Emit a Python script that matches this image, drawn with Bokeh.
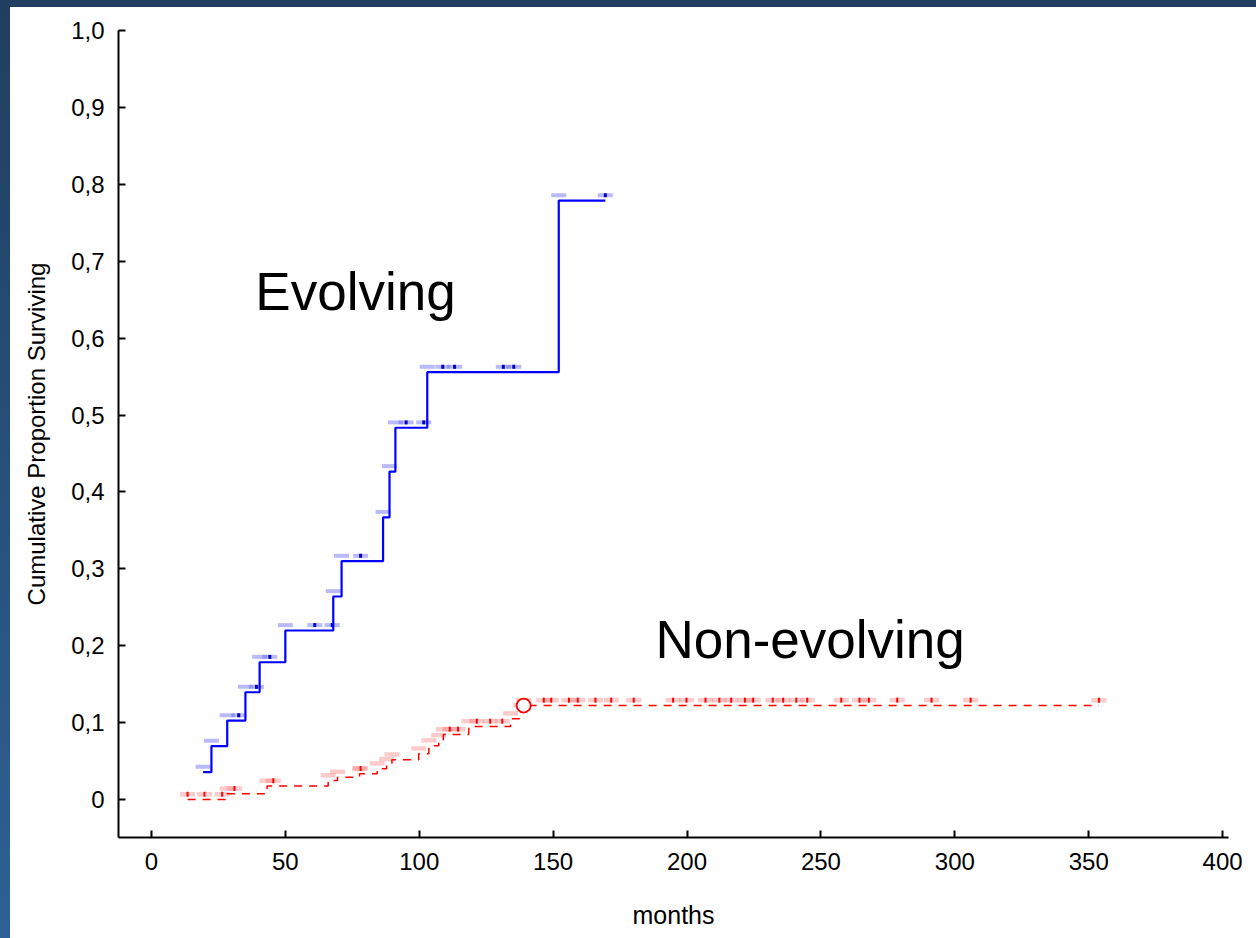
from bokeh.plotting import figure
from bokeh.models import Spacer, CustomJSTickFormatter, FixedTicker
from bokeh.layouts import column, row
from bokeh.embed import file_html
from bokeh.resources import INLINE
from bokeh.core.properties import value

# ---------------- data ----------------
x_ticks = [0, 50, 100, 150, 200, 250, 300, 350, 400]
y_ticks = [0.0, 0.1, 0.2, 0.3, 0.4, 0.5, 0.6, 0.7, 0.8, 0.9, 1.0]
y_tick_labels = ["0", "0,1", "0,2", "0,3", "0,4", "0,5", "0,6", "0,7", "0,8", "0,9", "1,0"]

evolving_event_months = [19.3, 22.4, 28.3, 35.1, 40.4, 50.0, 67.9, 71.0, 86.5, 88.9, 91.1, 103.0, 152.1]
evolving_cum_prop = [0.0355, 0.0693, 0.1027, 0.1395, 0.1785, 0.2198, 0.2640, 0.3099, 0.3670,
                     0.4265, 0.4834, 0.5557, 0.7789]
evolving_censored_months = [32.6, 39.2, 44.2, 61.0, 67.5, 78.1, 95.1, 101.7, 108.8, 113.2,
                            131.4, 135.3, 169.5]

nonevolving_event_months = [28.3, 43.2, 66.0, 69.5, 77.7, 84.3, 87.8, 89.8, 99.8, 103.6,
                            107.3, 109.0, 118.5, 134.1, 137.8, 139.0]
nonevolving_cum_prop = [0.0074, 0.0175, 0.0247, 0.0290, 0.0334, 0.0400, 0.0455, 0.0516, 0.0594,
                        0.0700, 0.0767, 0.0845, 0.0949, 0.1050, 0.1157, 0.1222]
nonevolving_censored_months = [13.5, 19.8, 26.4, 31.0, 45.5, 78.1, 111.4, 114.5, 121.5, 126.5,
                               131.0, 146.5, 149.3, 155.9, 159.2, 165.8, 171.7, 180.1, 194.8,
                               199.8, 206.9, 212.1, 216.5, 221.6, 224.7, 232.0, 235.9, 240.8,
                               244.9, 257.6, 264.4, 267.9, 278.5, 291.3, 305.9, 353.8]

series_names = ["Evolving", "Non-evolving"]

# ---------------- helpers ----------------
def level_at(t, times, levels, base):
    lv = base
    for tt, ll in zip(times, levels):
        if tt <= t:
            lv = ll
    return lv

MARK_LIFT = 0.007  # marks drawn just above the curve

p = figure(width=1246, height=931, x_range=(-12.3, 402.2), y_range=(-0.0494, 1.0),
           output_backend="svg", toolbar_location=None,
           min_border_left=108, min_border_right=28, min_border_top=23, min_border_bottom=101)
p.outline_line_color = None
p.xgrid.visible = False
p.ygrid.visible = False
p.background_fill_color = "white"
p.border_fill_color = "white"

for ax in (p.xaxis[0], p.yaxis[0]):
    ax.axis_line_width = 2
    ax.axis_line_color = "black"
    ax.major_tick_line_width = 2
    ax.major_tick_line_color = "black"
    ax.major_tick_in = 7
    ax.major_tick_out = 0
    ax.minor_tick_line_color = None
    ax.major_label_text_font = "Liberation Sans"
    ax.major_label_text_font_size = "24px"
    ax.major_label_text_color = "black"
    ax.axis_label_text_font = "Liberation Sans"
    ax.axis_label_text_font_style = "normal"
    ax.axis_label_text_color = "black"

p.xaxis.axis_label_text_font_size = "25px"
p.yaxis.axis_label_text_font_size = "24px"
p.xaxis.ticker = FixedTicker(ticks=x_ticks)
p.yaxis.ticker = FixedTicker(ticks=y_ticks)
p.yaxis.formatter = CustomJSTickFormatter(args=dict(labels=y_tick_labels),
                                          code="return labels[Math.round(tick*10)];")
p.xaxis.axis_label = "months"
p.yaxis.axis_label = "Cumulative Proportion Surviving"
p.xaxis.major_label_standoff = 15
p.yaxis.major_label_standoff = 14
p.xaxis.axis_label_standoff = 28
p.yaxis.axis_label_standoff = 18

# ---------------- Evolving (solid blue) ----------------
ev_x = evolving_event_months + [max(evolving_censored_months)]
ev_y = evolving_cum_prop + [evolving_cum_prop[-1]]
ev_all = sorted(evolving_event_months + evolving_censored_months)
ev_mark_y = [level_at(t, evolving_event_months, evolving_cum_prop, evolving_cum_prop[0]) + MARK_LIFT
             for t in ev_all]
p.rect(x=ev_all, y=ev_mark_y, width=15, height=4, width_units="screen", height_units="screen",
       fill_color="#5a5af5", fill_alpha=0.42, line_color=None)
ev_c_y = [level_at(t, evolving_event_months, evolving_cum_prop, evolving_cum_prop[0]) + MARK_LIFT
          for t in evolving_censored_months]
p.rect(x=evolving_censored_months, y=ev_c_y, width=3, height=4, width_units="screen",
       height_units="screen", fill_color="#0000c8", line_color=None)
p.step(x=ev_x, y=ev_y, mode="after", line_color="#0000ff", line_width=2.2)

# ---------------- Non-evolving (dashed red) ----------------
ne_start = min(nonevolving_censored_months + nonevolving_event_months)
ne_x = [ne_start] + nonevolving_event_months + [max(nonevolving_censored_months)]
ne_y = [0.0] + nonevolving_cum_prop + [nonevolving_cum_prop[-1]]
ne_all = sorted(nonevolving_event_months + nonevolving_censored_months)
ne_mark_y = [level_at(t, nonevolving_event_months, nonevolving_cum_prop, 0.0) + MARK_LIFT
             for t in ne_all]
p.rect(x=ne_all, y=ne_mark_y, width=15, height=4.5, width_units="screen", height_units="screen",
       fill_color="#ff6a6a", fill_alpha=0.35, line_color=None)
ne_c_y = [level_at(t, nonevolving_event_months, nonevolving_cum_prop, 0.0) + MARK_LIFT
          for t in nonevolving_censored_months]
p.rect(x=nonevolving_censored_months, y=ne_c_y, width=2, height=5, width_units="screen",
       height_units="screen", fill_color="#ff0000", line_color=None)
p.step(x=ne_x, y=ne_y, mode="after", line_color="#ff0000", line_width=1.5, line_dash="8 7")
p.scatter(x=[nonevolving_event_months[-1]], y=[nonevolving_cum_prop[-1]], marker="circle",
          size=14, fill_color="white", line_color="#ff0000", line_width=1.8)

# ---------------- labels ----------------
p.text(x=[38.8], y=[0.661], text=[series_names[0]], text_font=value("Liberation Sans"),
       text_font_size="53px", text_baseline="alphabetic", text_align="left", text_color="black")
p.text(x=[188.2], y=[0.2085], text=[series_names[1]], text_font=value("Liberation Sans"),
       text_font_size="53px", text_baseline="alphabetic", text_align="left", text_color="black")

# ---------------- slide frame ----------------
top_strip = Spacer(width=1256, height=7, styles={"background": "#203f60"})
left_strip = Spacer(width=10, height=931,
                    styles={"background": "linear-gradient(#203f60, #2e6195)"})
layout = column(top_strip, row(left_strip, p, spacing=0), spacing=0)

open("out.html", "w").write(file_html(layout, INLINE))
